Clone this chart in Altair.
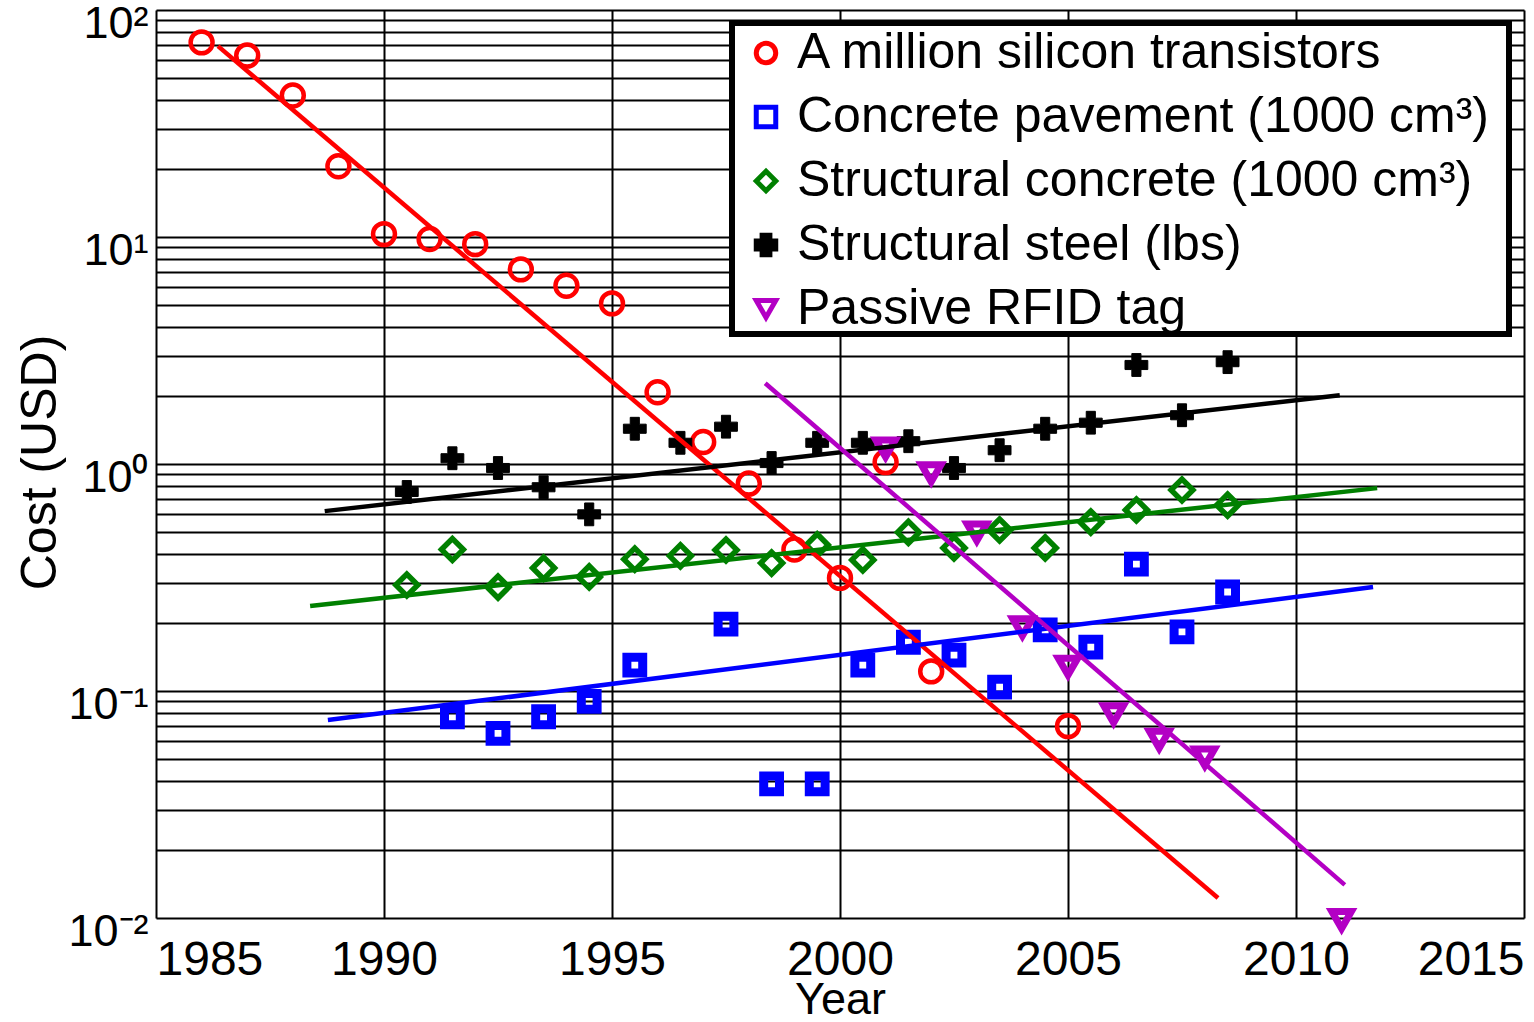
import altair as alt
import pandas as pd

# Series names (legend order)
SERIES = [
    "A million silicon transistors",
    "Concrete pavement (1000 cm³)",
    "Structural concrete (1000 cm³)",
    "Structural steel (lbs)",
    "Passive RFID tag",
]
COLORS = ["#ff0000", "#0000ff", "#008000", "#000000", "#b300c4"]
SHAPES = ["circle", "square", "diamond", "cross", "triangle-down"]
FILLS = ["transparent", "transparent", "transparent", "#000000", "transparent"]
MARKER_SIZE = [480, 250, 480, 520, 380]
MARKER_STROKE = [4.5, 9, 5.5, 1, 7]

# Observed costs (USD)
silicon_years = [1986, 1987, 1988, 1989, 1990, 1991, 1992, 1993, 1994, 1995,
                 1996, 1997, 1998, 1999, 2000, 2001, 2002, 2005]
silicon_cost = [72, 63, 42, 20.5, 10.3, 9.8, 9.3, 7.2, 6.1, 5.1,
                2.07, 1.25, 0.82, 0.42, 0.315, 1.02, 0.122, 0.070]

pavement_years = [1991.5, 1992.5, 1993.5, 1994.5, 1995.5, 1997.5, 1998.5, 1999.5,
                  2000.5, 2001.5, 2002.5, 2003.5, 2004.5, 2005.5, 2006.5, 2007.5, 2008.5]
pavement_cost = [0.077, 0.065, 0.077, 0.090, 0.130, 0.197, 0.039, 0.039,
                 0.130, 0.164, 0.144, 0.104, 0.186, 0.156, 0.362, 0.182, 0.273]

concrete_years = [1990.5, 1991.5, 1992.5, 1993.5, 1994.5, 1995.5, 1996.5, 1997.5,
                  1998.5, 1999.5, 2000.5, 2001.5, 2002.5, 2003.5, 2004.5, 2005.5,
                  2006.5, 2007.5, 2008.5]
concrete_cost = [0.293, 0.42, 0.287, 0.348, 0.318, 0.381, 0.394, 0.418,
                 0.366, 0.44, 0.378, 0.50, 0.427, 0.512, 0.427, 0.555,
                 0.627, 0.768, 0.659]

steel_years = [1990.5, 1991.5, 1992.5, 1993.5, 1994.5, 1995.5, 1996.5, 1997.5,
               1998.5, 1999.5, 2000.5, 2001.5, 2002.5, 2003.5, 2004.5, 2005.5,
               2006.5, 2007.5, 2008.5]
steel_cost = [0.753, 1.06, 0.96, 0.79, 0.60, 1.43, 1.24, 1.46,
              1.01, 1.24, 1.24, 1.26, 0.96, 1.15, 1.43, 1.52,
              2.73, 1.64, 2.81]

rfid_years = [2001, 2002, 2003, 2004, 2005, 2006, 2007, 2008, 2011]
rfid_cost = [1.17, 0.91, 0.50, 0.191, 0.128, 0.079, 0.061, 0.051, 0.0098]

# Exponential trend lines (start / end points)
silicon_fit_years = [1986.36, 2008.29]
silicon_fit_cost = [69.3, 0.01225]
pavement_fit_years = [1988.77, 2011.69]
pavement_fit_cost = [0.0745, 0.287]
concrete_fit_years = [1988.38, 2011.78]
concrete_fit_cost = [0.237, 0.783]
steel_fit_years = [1988.7, 2010.96]
steel_fit_cost = [0.62, 2.01]
rfid_fit_years = [1998.36, 2011.07]
rfid_fit_cost = [2.27, 0.0140]

# Axis ticks
year_ticks = [1985, 1990, 1995, 2000, 2005, 2010, 2015]
decades = [0.01, 0.1, 1, 10]
cost_ticks = [d * m for d in decades for m in range(1, 10)] + [100]

FONT = "Liberation Sans"

obs_years = [silicon_years, pavement_years, concrete_years, steel_years, rfid_years]
obs_costs = [silicon_cost, pavement_cost, concrete_cost, steel_cost, rfid_cost]
fit_years = [silicon_fit_years, pavement_fit_years, concrete_fit_years,
             steel_fit_years, rfid_fit_years]
fit_costs = [silicon_fit_cost, pavement_fit_cost, concrete_fit_cost,
             steel_fit_cost, rfid_fit_cost]


def frame(k, years, costs):
    return pd.DataFrame({"series": SERIES[k], "k": k, "year": years, "cost": costs})


x_scale = alt.Scale(domain=[1985, 2015], nice=False, zero=False)
y_scale = alt.Scale(type="log", domain=[0.01, 100], nice=False)

x_axis = alt.Axis(
    values=year_ticks, format="d", title="Year",
    grid=True, gridColor="black", gridWidth=2, gridOpacity=1,
    ticks=False, tickSize=0, domain=False,
    labelFlush=True, labelFont=FONT, labelFontSize=48, labelColor="black",
    labelBaseline="alphabetic", labelPadding=56,
    titleFont=FONT, titleFontSize=45, titleFontWeight="normal", titleColor="black",
    titleBaseline="alphabetic", titleY=95,
)

label_expr = (
    "datum.value == 100 ? '10²' : datum.value == 10 ? '10¹' : "
    "datum.value == 1 ? '10⁰' : datum.value == 0.1 ? '10⁻¹' : "
    "datum.value == 0.01 ? '10⁻²' : ''"
)
y_axis = alt.Axis(
    values=cost_ticks, labelExpr=label_expr, title="Cost (USD)",
    grid=True, gridColor="black", gridWidth=2, gridOpacity=1,
    ticks=False, tickSize=0, domain=False, labelOverlap=False,
    labelFont=FONT, labelFontSize=45, labelColor="black",
    labelBaseline="middle", labelOffset=13, labelPadding=8,
    titleFont=FONT, titleFontSize=50, titleFontWeight="normal", titleColor="black",
    titleX=-116, titleY=452, titleAngle=-90, titleAlign="center", titleBaseline="middle",
)

legend = alt.Legend(
    title=None, orient="none", legendX=573, legendY=10,
    fillColor="transparent", strokeColor="transparent",
    padding=8, symbolOffset=4, labelOffset=6, rowPadding=14,
    labelFont=FONT, labelFontSize=50, labelColor="black", labelLimit=1000,
    symbolSize=380, symbolStrokeWidth=5,
)

stroke_enc = alt.Stroke("series:N", scale=alt.Scale(domain=SERIES, range=COLORS), legend=legend)
fill_enc = alt.Fill("series:N", scale=alt.Scale(domain=SERIES, range=FILLS), legend=legend)
shape_enc = alt.Shape("series:N", scale=alt.Scale(domain=SERIES, range=SHAPES), legend=legend)

# One point layer per series so each keeps its own marker size and stroke
point_layers = []
for k in range(len(SERIES)):
    layer = alt.Chart(frame(k, obs_years[k], obs_costs[k])).mark_point(
        size=MARKER_SIZE[k], strokeWidth=MARKER_STROKE[k], opacity=1
    ).encode(
        x=alt.X("year:Q", scale=x_scale, axis=x_axis),
        y=alt.Y("cost:Q", scale=y_scale, axis=y_axis),
        stroke=stroke_enc,
        fill=fill_enc,
        shape=shape_enc,
    )
    point_layers.append(layer)

fits = pd.concat([frame(k, fit_years[k], fit_costs[k]) for k in range(len(SERIES))],
                 ignore_index=True)

lines = alt.Chart(fits).mark_line(strokeWidth=4.5).encode(
    x=alt.X("year:Q", scale=x_scale, axis=x_axis),
    y=alt.Y("cost:Q", scale=y_scale, axis=y_axis),
    detail="k:O",
    color=alt.Color("k:O", scale=alt.Scale(range=COLORS), legend=None),
)

# Heavy frame behind the legend entries
legend_box = alt.Chart(pd.DataFrame({"box": [0]})).mark_rect(
    fill="white", stroke="black", strokeWidth=6
).encode(
    x=alt.value(576), x2=alt.value(1353), y=alt.value(13), y2=alt.value(324)
)

chart = (
    alt.layer(*point_layers, lines, legend_box)
    .properties(
        width=1368, height=908,
        padding={"left": 156, "top": 10, "right": 10, "bottom": 104},
        autosize=alt.AutoSizeParams(type="none"),
    )
    .configure_view(stroke="black", strokeWidth=2)
    .configure(background="white")
)

chart.save("out.html", embed_options={"renderer": "svg", "actions": False})
